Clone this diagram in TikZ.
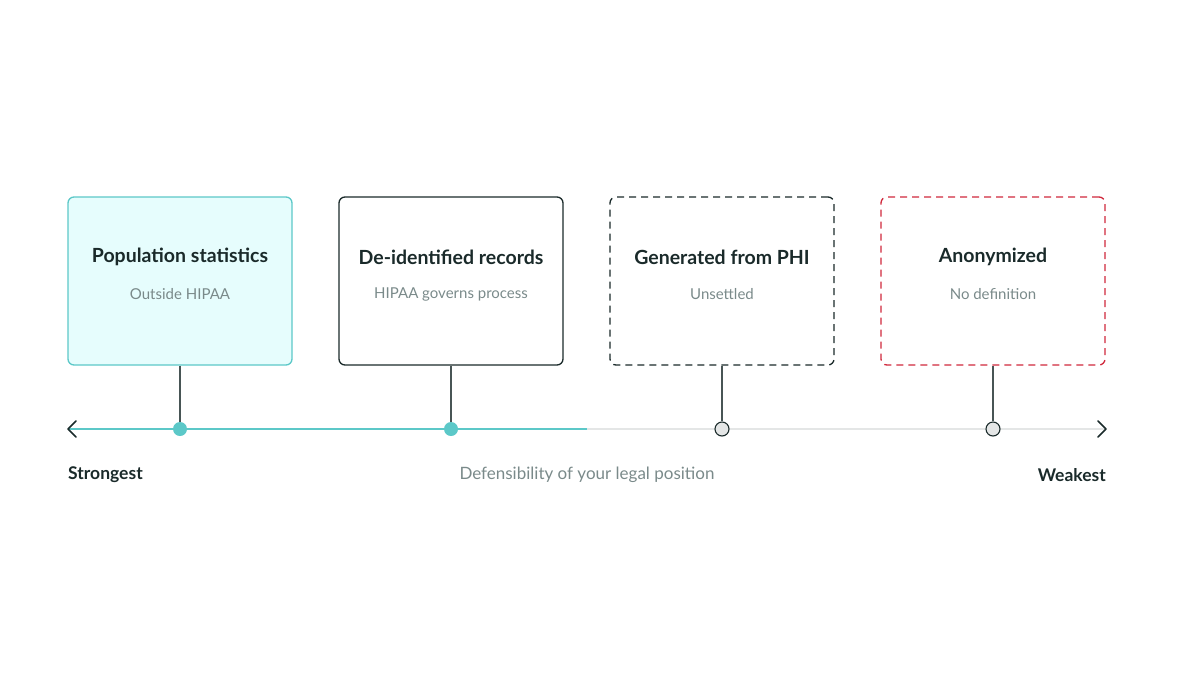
\documentclass[tikz,border=0pt]{standalone}
\usepackage{fontspec}
\setmainfont{Lato}
\usetikzlibrary{arrows.meta}
\definecolor{teal}{HTML}{5CC8C8}
\definecolor{tealfill}{HTML}{E6FDFD}
\definecolor{ink}{HTML}{1A2A2A}
\definecolor{grayt}{HTML}{7A8A8A}
\definecolor{axisg}{HTML}{E4E6E6}
\definecolor{redd}{HTML}{D0283C}
\definecolor{dotg}{HTML}{E4E6E6}
\begin{document}
\begin{tikzpicture}[x=1pt,y=-1pt,
 box/.style={minimum width=224pt,minimum height=168pt,rounded corners=6pt,line width=1.3pt,inner sep=0pt},
 ttl/.style={font=\fontsize{19.5}{21}\selectfont\bfseries,text=ink},
 sub/.style={font=\fontsize{15}{17}\selectfont,text=grayt},
 stem/.style={draw=ink!80,line width=1.2pt},
 dotA/.style={circle,fill=teal,inner sep=0pt,minimum size=14pt},
 dotB/.style={circle,fill=dotg,draw=ink,line width=1.1pt,inner sep=0pt,minimum size=14pt}]
\useasboundingbox (0,0) rectangle (1200,675);
\node[box,draw=teal,fill=tealfill] (b1) at (180,281) {};
\node[box,draw=ink] (b2) at (451,281) {};
\node[box,draw=ink,dashed,dash pattern=on 7pt off 5pt] (b3) at (722,281) {};
\node[box,draw=redd,dashed,dash pattern=on 7pt off 5pt] (b4) at (993,281) {};
\node[ttl] (t1) at (180,257) {Population statistics};
\node[ttl] (t2) at (451,257) {De-identified records};
\node[ttl] (t3) at (722,257) {Generated from PHI};
\node[ttl] (t4) at (993,257) {Anonymized};
\node[sub] (s1) at (180,294) {Outside HIPAA};
\node[sub] (s2) at (451,294) {HIPAA governs process};
\node[sub] (s3) at (722,294) {Unsettled};
\node[sub] (s4) at (993,294) {No definition};
\coordinate (L) at (68,429);
\coordinate (M) at (587,429);
\coordinate (R) at (1106,429);
\draw[axisg,line width=2pt] (M) -- (R);
\draw[teal,line width=2pt] (L) -- (M);
\draw[ink,line width=1.6pt,line cap=round,line join=round] (76,421) -- (68,429) -- (76,437);
\draw[ink,line width=1.6pt,line cap=round,line join=round] (1098,421) -- (1106,429) -- (1098,437);
\node[dotA] (d1) at (180,429) {};
\node[dotA] (d2) at (451,429) {};
\node[dotB] (d3) at (722,429) {};
\node[dotB] (d4) at (993,429) {};
\draw[stem] (b1.south) -- (d1);
\draw[stem] (b2.south) -- (d2);
\draw[stem] (b3.south) -- (d3);
\draw[stem] (b4.south) -- (d4);
\node[font=\fontsize{17.5}{19}\selectfont\bfseries,text=ink,anchor=west,inner sep=0pt] (st) at (68,475) {Strongest};
\node[font=\fontsize{17.5}{19}\selectfont\bfseries,text=ink,anchor=east,inner sep=0pt] (wk) at (1106,475) {Weakest};
\node[font=\fontsize{17}{19}\selectfont,text=grayt] (df) at (587,475) {Defensibility of your legal position};
\end{tikzpicture}
\end{document}
